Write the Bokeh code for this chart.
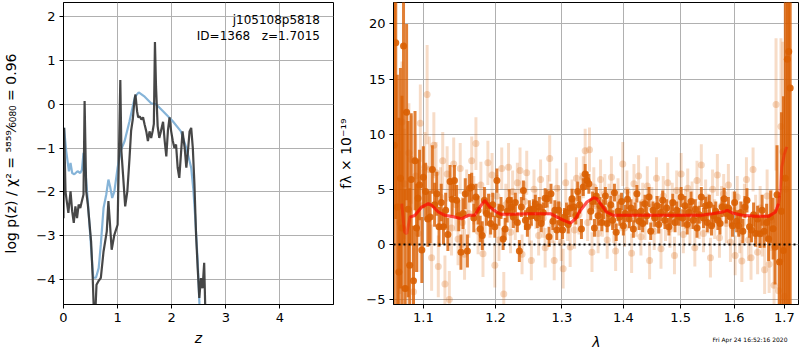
import numpy as np
from bokeh.plotting import figure
from bokeh.layouts import row, column
from bokeh.models import FixedTicker, CustomJSTickFormatter, Label, Span, Range1d
from bokeh.embed import file_html
from bokeh.resources import INLINE

FONT = "DejaVu Sans"

# ---------------- left panel: log p(z) ----------------
pz_fit_z = [0.0, 0.01, 0.05, 0.10, 0.13, 0.16, 0.20, 0.26, 0.31, 0.34,
            0.37, 0.41, 0.45, 0.51, 0.55, 0.60, 0.65, 0.69, 0.74, 0.79,
            0.83, 0.86, 0.90, 0.94, 1.00, 1.06, 1.13, 1.22, 1.32, 1.39,
            1.50, 1.62, 1.71, 1.84, 2.02, 2.17, 2.27, 2.36, 2.40, 2.43,
            2.48, 2.51, 2.54]
pz_fit_logp = [-0.6, -0.54, -1.07, -1.53, -1.34, -1.57, -1.60, -1.53, -1.57, -1.50,
               -1.11, -1.60, -2.21, -3.28, -3.96, -3.96, -3.74, -3.20, -2.37, -2.06,
               -1.72, -1.87, -2.14, -1.99, -1.45, -1.05, -0.84, -0.39, 0.17, 0.27,
               0.17, 0.02, 0.0, -0.16, -0.39, -0.62, -1.0, -1.45, -1.95, -2.5,
               -3.58, -4.5, -5.2]

pz_raw_z = [0.0, 0.012, 0.037, 0.06, 0.09, 0.13, 0.16, 0.19, 0.22, 0.25,
            0.28, 0.31, 0.34, 0.37, 0.39, 0.42, 0.45, 0.51, 0.54, 0.56,
            0.59, 0.61, 0.65, 0.69, 0.74, 0.80, 0.83, 0.86, 0.89, 0.94,
            1.00, 1.05, 1.07, 1.10, 1.14, 1.18, 1.22, 1.25, 1.28, 1.31,
            1.33, 1.36, 1.38, 1.41, 1.44, 1.47, 1.50, 1.53, 1.56, 1.59,
            1.62, 1.65, 1.67, 1.69, 1.71, 1.74, 1.77, 1.80, 1.84, 1.87,
            1.90, 1.93, 1.96, 1.99, 2.02, 2.05, 2.08, 2.11, 2.14, 2.17,
            2.20, 2.24, 2.27, 2.30, 2.33, 2.36, 2.39, 2.42, 2.45, 2.48,
            2.51, 2.54, 2.57, 2.60, 2.62, 2.64]
pz_raw_logp = [-2.6, -0.54, -1.99, -2.21, -2.48, -1.99, -2.44, -2.71, -2.33, -2.6,
               -2.29, -2.37, -2.21, -2.06, 0.07, -1.99, -2.29, -3.13, -3.96, -4.7,
               -4.7, -4.12, -4.03, -3.96, -3.36, -2.90, -2.21, -2.75, -3.32, -2.98,
               -2.75, 0.55, -1.07, -1.6, -2.33, -1.99, -1.23, -0.6, -0.35, 0.07,
               0.22, -0.16, -0.3, -0.28, -0.35, -0.3, -0.47, -0.62, -0.84, -0.62,
               -0.77, -0.6, -0.45, 1.42, 0.4, -0.5, -0.77, -0.62, -0.4, -0.84,
               -1.19, -0.6, -0.3, -0.62, -0.84, -1.0, -0.92, -1.45, -1.68, -1.15,
               -0.62, -1.0, -1.45, -1.07, -0.62, -0.54, -1.0, -1.83, -2.98, -3.74,
               -4.42, -3.97, -4.2, -3.62, -4.65, -5.0]

left_xticks = [0, 1, 2, 3, 4]
left_yticks = [-4, -3, -2, -1, 0, 1, 2]

# ---------------- right panel: spectrum ----------------
spec_a_lam = [1.062, 1.064, 1.066, 1.068, 1.070, 1.072, 1.074, 1.076, 1.078, 1.080,
              1.082, 1.084, 1.087, 1.089, 1.091, 1.093, 1.095, 1.098, 1.100, 1.103,
              1.106, 1.109, 1.112, 1.115, 1.118, 1.121, 1.124, 1.127, 1.130, 1.133,
              1.136, 1.139, 1.142, 1.145, 1.148, 1.151, 1.154, 1.157, 1.160, 1.163,
              1.166, 1.169, 1.172, 1.175, 1.178, 1.181, 1.184, 1.187, 1.190, 1.193,
              1.196, 1.199, 1.202, 1.205, 1.208, 1.211, 1.214, 1.217, 1.220, 1.223,
              1.226, 1.229, 1.232, 1.235, 1.238, 1.241, 1.244, 1.247, 1.250, 1.253,
              1.256, 1.259, 1.262, 1.265, 1.268, 1.271, 1.274, 1.277, 1.280, 1.283,
              1.286, 1.289, 1.292, 1.295, 1.298, 1.301, 1.304, 1.307, 1.310, 1.313,
              1.316, 1.319, 1.322, 1.325, 1.328, 1.331, 1.334, 1.337, 1.340, 1.343,
              1.346, 1.349, 1.352, 1.355, 1.358, 1.361, 1.364, 1.367, 1.370, 1.373,
              1.376, 1.379, 1.382, 1.385, 1.388, 1.391, 1.394, 1.397, 1.400, 1.403,
              1.407, 1.410, 1.413, 1.417, 1.420, 1.423, 1.427, 1.430, 1.433, 1.437,
              1.440, 1.444, 1.447, 1.451, 1.454, 1.458, 1.461, 1.465, 1.468, 1.472,
              1.475, 1.479, 1.483, 1.486, 1.490, 1.493, 1.497, 1.501, 1.504, 1.508,
              1.512, 1.515, 1.519, 1.523, 1.527, 1.530, 1.534, 1.538, 1.542, 1.546,
              1.549, 1.553, 1.557, 1.561, 1.565, 1.569, 1.573, 1.577, 1.581, 1.585,
              1.589, 1.593, 1.597, 1.601, 1.605, 1.609, 1.613, 1.617, 1.621, 1.625,
              1.630, 1.634, 1.638, 1.642, 1.646, 1.651, 1.655, 1.659, 1.664, 1.668,
              1.672, 1.677, 1.681, 1.685, 1.690, 1.694, 1.698, 1.702, 1.706, 1.709, 1.712]
spec_a_flux = [9.0, 18.3, 3.4, -2.5, 6.0, 1.5, 18.0, -4.0, 12.0, 3.2,
               -1.9, 5.9, -3.3, 7.6, 1.5, 4.2, 5.4, -0.5, 6.1, 4.8,
               2.3, 2.5, 6.8, 3.6, 4.6, 1.6, 3.8, 1.6, 3.1, 0.9,
               5.7, 4.1, 5.8, 4.0, 2.6, -0.7, 2.8, 4.6, -0.6, 5.1,
               5.2, 2.4, 4.3, 3.1, 1.4, 0.8, 4.0, 2.8, 3.5, 1.9,
               3.6, 1.6, 5.8, 2.7, 3.3, 0.5, 1.4, 3.0, 4.0, 3.4,
               2.5, 3.8, 2.0, -0.6, 3.4, 4.9, 2.2, 1.6, 3.1, 2.6,
               3.2, 3.7, 2.4, 3.4, 1.9, 2.9, 4.2, 4.15, 0.7, 4.6,
               2.1, 3.1, 1.3, 3.1, 2.0, 1.3, 2.5, 2.9, 1.8, 3.3,
               4.15, 3.4, 2.6, 4.8, 3.6, 1.4, 5.2, 6.4, 5.8, 5.5,
               3.0, 3.9, 1.5, 4.4, 2.6, 3.5, 2.0, 3.2, 4.4, 1.9,
               2.8, 3.6, 2.2, 4.7, 1.1, 3.0, 2.5, 3.9, 1.7, 2.8,
               4.1, 2.3, 3.3, 1.4, 2.9, 4.6, 2.1, 3.0, 1.9, 3.7,
               2.6, 4.3, 1.2, 3.1, 2.4, 3.5, 1.8, 2.9, 4.0, 2.2,
               3.3, 1.6, 2.7, 3.8, 2.0, 3.1, 2.5, 4.3, 2.4, 3.5,
               1.8, 2.9, 3.9, 2.2, 3.2, 1.5, 2.7, 4.3, 2.4, 3.5,
               2.0, 3.6, 1.7, 2.6, 3.0, 2.2, 1.9, 3.4, 4.15, 2.8,
               3.3, 2.5, 1.7, 3.8, 2.1, 1.7, 2.9, 1.2, 3.4, 4.0,
               1.6, 1.3, 2.7, 1.0, 2.3, 0.97, 3.1, 1.2, 2.0, 0.5,
               2.5, 1.43, -0.24, 4.5, -1.6, 3.0, -0.55, 6.0, 16.8, 17.5, 14.2]
spec_a_err = [22.0, 16.0, 12.0, 14.0, 10.0, 12.0, 18.0, 9.0, 8.0, 8.0,
              7.0, 6.0, 5.0, 4.5, 4.0, 3.5, 3.2, 3.0, 2.8, 2.6,
              2.5, 2.4, 2.2, 2.0, 2.0, 1.8, 1.7, 1.6, 1.6, 1.5,
              1.5, 1.5, 1.4, 1.4, 1.4, 1.6, 1.4, 1.4, 1.5, 1.3,
              1.3, 1.3, 1.2, 1.3, 1.2, 1.3, 1.2, 1.1, 1.1, 1.0,
              1.1, 1.0, 1.1, 1.0, 1.0, 1.0, 1.0, 1.0, 1.0, 0.9,
              1.0, 0.9, 0.9, 1.0, 0.9, 0.9, 0.9, 0.9, 0.9, 0.9,
              0.9, 0.8, 0.9, 0.9, 0.8, 0.9, 0.9, 0.8, 0.9, 0.9,
              0.8, 0.9, 0.9, 0.8, 0.9, 0.8, 0.8, 0.9, 0.8, 0.8,
              0.9, 0.8, 0.8, 0.9, 0.8, 0.9, 0.8, 0.9, 0.8, 0.9,
              0.8, 0.9, 0.8, 0.8, 0.9, 0.8, 0.8, 0.9, 0.8, 0.8,
              0.8, 0.8, 0.9, 0.8, 0.8, 0.9, 0.8, 0.8, 0.9, 0.8,
              0.9, 0.8, 0.8, 0.8, 0.9, 0.8, 0.8, 0.9, 0.8, 0.8,
              0.8, 0.9, 0.8, 0.8, 0.8, 0.9, 0.8, 0.8, 0.9, 0.8,
              0.8, 0.8, 0.9, 0.8, 0.9, 0.8, 0.8, 0.9, 0.8, 0.9,
              0.9, 0.8, 0.9, 0.8, 0.9, 0.9, 0.8, 0.9, 0.9, 0.8,
              0.9, 0.9, 0.9, 1.0, 0.9, 0.9, 1.0, 0.9, 1.0, 0.9,
              1.0, 0.9, 1.0, 1.0, 1.0, 1.0, 1.0, 1.1, 1.0, 1.1,
              1.0, 1.1, 1.1, 1.2, 1.2, 1.3, 1.4, 1.5, 1.7, 2.0,
              2.4, 2.8, 3.4, 4.5, 6.0, 9.0, 14.0, 25.0, 25.0, 25.0, 20.0]

spec_b_lam = [1.069, 1.072, 1.075, 1.078, 1.081, 1.084, 1.087, 1.090, 1.093, 1.096,
              1.099, 1.102, 1.105, 1.108, 1.111, 1.114, 1.117, 1.120, 1.123, 1.126,
              1.129, 1.132, 1.135, 1.138, 1.141, 1.144, 1.147, 1.150, 1.153, 1.156,
              1.159, 1.162, 1.166, 1.169, 1.172, 1.175, 1.179, 1.182, 1.185, 1.189,
              1.192, 1.195, 1.199, 1.202, 1.205, 1.209, 1.212, 1.215, 1.219, 1.222,
              1.225, 1.229, 1.232, 1.236, 1.239, 1.243, 1.246, 1.250, 1.253, 1.257,
              1.260, 1.264, 1.267, 1.271, 1.274, 1.278, 1.281, 1.285, 1.288, 1.292,
              1.295, 1.299, 1.302, 1.306, 1.309, 1.313, 1.316, 1.320, 1.323, 1.327,
              1.330, 1.334, 1.337, 1.341, 1.344, 1.348, 1.351, 1.355, 1.358, 1.362,
              1.365, 1.369, 1.373, 1.376, 1.380, 1.384, 1.387, 1.391, 1.395, 1.399,
              1.402, 1.406, 1.410, 1.414, 1.418, 1.422, 1.426, 1.430, 1.433, 1.437,
              1.441, 1.445, 1.449, 1.453, 1.457, 1.461, 1.465, 1.469, 1.473, 1.477,
              1.481, 1.485, 1.489, 1.493, 1.497, 1.501, 1.505, 1.509, 1.513, 1.517,
              1.521, 1.526, 1.530, 1.534, 1.538, 1.542, 1.546, 1.551, 1.555, 1.559,
              1.563, 1.568, 1.572, 1.576, 1.580, 1.585, 1.589, 1.593, 1.598, 1.602,
              1.606, 1.611, 1.615, 1.620, 1.624, 1.628, 1.633, 1.637, 1.642, 1.646,
              1.651, 1.655, 1.660, 1.665, 1.669, 1.674, 1.679, 1.683, 1.688, 1.693,
              1.697, 1.700, 1.703]
spec_b_flux = [2.0, 11.1, 5.5, -4.0, 8.3, 7.7, -4.3, 6.2, 1.0, 11.0,
               3.5, 7.0, 13.6, 6.8, -1.2, 9.0, 6.5, -2.0, 4.3, 7.6,
               -3.6, 6.4, -5.0, 1.5, 7.3, 3.6, 0.5, 6.9, 2.0, -0.9,
               4.6, 2.8, 7.6, 4.0, 9.15, 1.2, 5.4, -0.85, 3.0, 7.4,
               2.6, 6.3, -1.9, 4.4, 0.4, 6.9, -4.5, 3.6, 7.0, 1.1,
               4.8, 2.2, 5.6, 6.7, -0.9, 3.9, 6.5, 1.8, -1.45, 5.0,
               3.2, 0.8, 5.9, 2.4, -0.3, 4.5, 7.8, 1.9, -1.45, 5.1,
               3.6, 0.2, -2.2, 5.6, 2.0, -0.24, 4.1, 1.3, 6.0, 2.7,
               4.7, 6.1, 8.5, 2.0, 8.6, -0.7, 5.2, 3.5, 1.0, 5.9,
               2.4, 4.6, 0.4, 3.7, 6.1, 1.8, -0.6, 4.2, 2.9, 7.3,
               1.5, 4.9, 3.1, -0.8, 5.5, 2.4, 6.2, 0.7, 3.8, 2.1,
               5.3, -1.45, 3.4, 1.2, 6.0, 2.7, -0.4, 4.4, 2.0, 5.6,
               1.4, 3.8, -1.0, 4.9, 2.5, 6.4, 0.9, 3.2, 5.1, 1.7,
               3.9, -0.3, 5.8, 2.2, 7.2, 1.0, 4.1, 2.8, -1.2, 5.0,
               2.3, 6.3, 0.6, 3.5, 4.6, 1.9, 5.4, 0.2, 3.0, -1.0,
               4.3, 1.1, -1.5, 3.6, 5.9, 0.4, -1.2, 6.8, 2.5, -0.7,
               3.3, 1.0, -2.3, 4.4, -1.8, 2.2, -3.7, 12.7, -4.2, 10.7,
               8.4, -4.7, 5.0]
spec_b_err = [6.5, 5.5, 5.0, 5.0, 4.5, 4.0, 4.0, 3.8, 3.5, 3.5,
              3.3, 3.2, 4.5, 3.0, 3.0, 3.0, 2.8, 2.8, 2.7, 2.6,
              2.6, 2.5, 2.6, 2.5, 2.4, 2.4, 2.4, 2.3, 2.3, 2.3,
              2.2, 2.2, 2.2, 2.2, 2.4, 2.1, 2.1, 2.1, 2.0, 2.0,
              2.0, 2.0, 2.0, 1.9, 1.9, 1.9, 2.0, 1.9, 2.2, 1.9,
              1.9, 1.8, 1.8, 2.1, 1.8, 1.8, 2.0, 1.8, 1.8, 1.8,
              1.8, 1.8, 1.8, 1.8, 1.8, 1.8, 2.1, 1.8, 1.8, 1.8,
              1.8, 1.7, 1.8, 1.8, 1.7, 1.8, 1.8, 1.7, 1.9, 1.8,
              1.8, 1.9, 2.0, 1.7, 2.0, 1.8, 1.8, 1.7, 1.8, 1.8,
              1.7, 1.8, 1.7, 1.8, 1.9, 1.7, 1.8, 1.8, 1.7, 2.0,
              1.7, 1.8, 1.7, 1.8, 1.8, 1.7, 1.9, 1.7, 1.8, 1.7,
              1.8, 1.7, 1.8, 1.7, 1.9, 1.7, 1.8, 1.8, 1.7, 1.8,
              1.7, 1.8, 1.7, 1.8, 1.7, 1.9, 1.7, 1.8, 1.8, 1.7,
              1.8, 1.7, 1.8, 1.7, 1.9, 1.7, 1.8, 1.8, 1.8, 1.8,
              1.8, 1.9, 1.8, 1.8, 1.8, 1.8, 1.9, 1.8, 1.8, 1.8,
              1.9, 1.9, 1.9, 1.9, 2.0, 1.9, 2.0, 2.0, 2.0, 2.0,
              2.0, 2.1, 2.2, 2.4, 2.6, 2.8, 3.2, 6.0, 4.0, 8.0,
              10.0, 6.0, 12.0]

model_lam = [1.0717, 1.0752, 1.0782, 1.0824, 1.0889, 1.0977, 1.1066, 1.1110, 1.1200, 1.1289,
             1.1425, 1.1518, 1.1612, 1.1704, 1.1775, 1.1846, 1.1918, 1.2014, 1.2078, 1.2272,
             1.2469, 1.2671, 1.2824, 1.2925, 1.3030, 1.3135, 1.3214, 1.3294, 1.3399, 1.3507,
             1.3557, 1.3639, 1.3720, 1.3831, 1.4108, 1.4688, 1.5378, 1.5587, 1.5777, 1.5872,
             1.5967, 1.6160, 1.6420, 1.6685, 1.6819, 1.6880, 1.6914, 1.6947, 1.7002, 1.7049]
model_flux = [3.70, 1.12, 0.97, 2.48, 2.64, 3.39, 3.70, 3.55, 2.94, 2.64,
              2.48, 2.33, 2.64, 2.64, 3.39, 4.00, 3.39, 2.94, 2.73, 2.73,
              2.79, 2.79, 2.79, 2.48, 2.18, 1.94, 2.33, 3.09, 3.85, 4.24,
              4.15, 3.55, 2.94, 2.64, 2.64, 2.64, 2.64, 2.79, 2.94, 3.09,
              2.85, 2.64, 2.55, 2.55, 2.94, 3.70, 4.91, 7.03, 8.24, 8.85]

right_xticks = [1.1, 1.2, 1.3, 1.4, 1.5, 1.6, 1.7]
right_yticks = [-5, 0, 5, 10, 15, 20]
date_text = "Fri Apr 24 16:52:16 2020"

ORANGE = "#d95f02"
GRID = "#b0b0b0"

minus_fmt = CustomJSTickFormatter(code="""
    return tick < 0 ? '\u2212' + Math.abs(tick) : String(tick);
""")
lam_fmt = CustomJSTickFormatter(code="return tick.toFixed(1);")


def style(p):
    p.outline_line_color = "black"
    p.outline_line_width = 1
    p.outline_line_alpha = 1
    p.background_fill_color = "white"
    p.border_fill_color = "white"
    for ax in p.axis:
        ax.axis_line_color = "black"
        ax.major_tick_line_color = "black"
        ax.major_tick_in = 0
        ax.major_tick_out = 4
        ax.minor_tick_line_color = None
        ax.major_label_text_font = FONT
        ax.major_label_text_font_size = "13px"
        ax.major_label_text_color = "black"
        ax.axis_label_text_font = FONT
        ax.axis_label_text_font_size = "14px"
        ax.axis_label_text_color = "black"
        ax.major_label_standoff = 4
    p.grid.grid_line_color = GRID
    p.grid.grid_line_width = 1


# ---------------- left figure ----------------
p1 = figure(width=335, height=350, x_range=Range1d(0, 4.99), y_range=Range1d(-4.57, 2.32),
            output_backend="svg", toolbar_location=None,
            min_border_left=62, min_border_right=2, min_border_top=2, min_border_bottom=46)
style(p1)
p1.xaxis.ticker = FixedTicker(ticks=left_xticks)
p1.yaxis.ticker = FixedTicker(ticks=left_yticks)
p1.xgrid.ticker = FixedTicker(ticks=left_xticks)
p1.ygrid.ticker = FixedTicker(ticks=left_yticks)
p1.yaxis.formatter = minus_fmt
p1.xaxis.axis_label = "z"
p1.xaxis.axis_label_text_font_style = "italic"
p1.xaxis.axis_label_standoff = 5
p1.yaxis.axis_label = "log p(z) / \u03c7\u00b2 = \u2075\u2078\u2075\u2079\u2044\u2086\u2080\u2088\u2080 = 0.96"
p1.yaxis.axis_label_text_font_style = "normal"
p1.yaxis.axis_label_standoff = 14

p1.line(pz_fit_z, pz_fit_logp, line_color="#7fb0d6", line_width=2.2, line_alpha=0.95)
p1.line(pz_raw_z, pz_raw_logp, line_color="#333333", line_width=2.2, line_alpha=0.9)

p1.add_layout(Label(x=4.74, y=1.92, text="j105108p5818", text_align="right",
                    text_baseline="middle", text_font=FONT, text_font_size="12px",
                    text_color="black"))
p1.add_layout(Label(x=4.74, y=1.55, text="ID=1368\u00a0\u00a0\u00a0z=1.7015", text_align="right",
                    text_baseline="middle", text_font=FONT, text_font_size="12px",
                    text_color="black"))

# ---------------- right figure ----------------
lam_range = Range1d(1.0611, 1.7292)
p2 = figure(width=465, height=328, x_axis_type="log",
            x_range=lam_range, y_range=Range1d(-5.45, 21.95),
            output_backend="svg", toolbar_location=None,
            min_border_left=57, min_border_right=2, min_border_top=2, min_border_bottom=24)
style(p2)
p2.xaxis.ticker = FixedTicker(ticks=right_xticks)
p2.xgrid.ticker = FixedTicker(ticks=right_xticks)
p2.yaxis.ticker = FixedTicker(ticks=right_yticks)
p2.ygrid.ticker = FixedTicker(ticks=right_yticks)
p2.xaxis.formatter = lam_fmt
p2.yaxis.formatter = minus_fmt
p2.yaxis.axis_label = "f\u03bb \u00d7 10\u207b\u00b9\u2079"
p2.yaxis.axis_label_text_font_style = "normal"
p2.yaxis.axis_label_standoff = 9

b_lam = np.array(spec_b_lam)
b_f = np.array(spec_b_flux)
b_e = np.array(spec_b_err)
a_lam = np.array(spec_a_lam)
a_f = np.array(spec_a_flux)
a_e = np.array(spec_a_err)

# second spectrum (faint)
p2.segment(b_lam, b_f - b_e, b_lam, b_f + b_e, line_color=ORANGE, line_width=3, line_alpha=0.22)
p2.scatter(b_lam, b_f, size=7, fill_color=ORANGE, line_color=None, fill_alpha=0.25)
# first spectrum (strong)
p2.segment(a_lam, a_f - a_e, a_lam, a_f + a_e, line_color=ORANGE, line_width=3, line_alpha=0.8)
p2.scatter(a_lam, a_f, size=7, fill_color=ORANGE, line_color=None, fill_alpha=0.9)

# model
p2.line(model_lam, model_flux, line_color="red", line_width=3, line_alpha=0.35)
p2.line(model_lam[3:46], model_flux[3:46], line_color="red", line_width=3, line_alpha=0.5)

p2.add_layout(Span(location=0, dimension="width", line_color="black", line_width=2,
                   line_dash="2 3"))

# strip under the spectrum: x-axis title and time stamp
p3 = figure(width=465, height=22, x_axis_type="log", x_range=lam_range, y_range=Range1d(0, 1),
            output_backend="svg", toolbar_location=None,
            x_axis_location=None, y_axis_location=None,
            min_border=0, min_border_left=57, min_border_right=2,
            min_border_top=0, min_border_bottom=0)
p3.grid.visible = False
p3.outline_line_color = None
p3.background_fill_color = "white"
p3.border_fill_color = "white"
p3.add_layout(Label(x=203, y=9, x_units="screen", y_units="screen", text="\u03bb",
                    text_align="center", text_baseline="middle", text_font=FONT,
                    text_font_size="14px", text_font_style="italic", text_color="black"))
p3.add_layout(Label(x=1.7063, y=0.5, text=date_text, text_align="right",
                    text_baseline="middle", text_font=FONT, text_font_size="6px",
                    text_color="black"))

layout = row(p1, column(p2, p3))
with open("out.html", "w", encoding="utf-8") as fh:
    fh.write(file_html(layout, INLINE))
